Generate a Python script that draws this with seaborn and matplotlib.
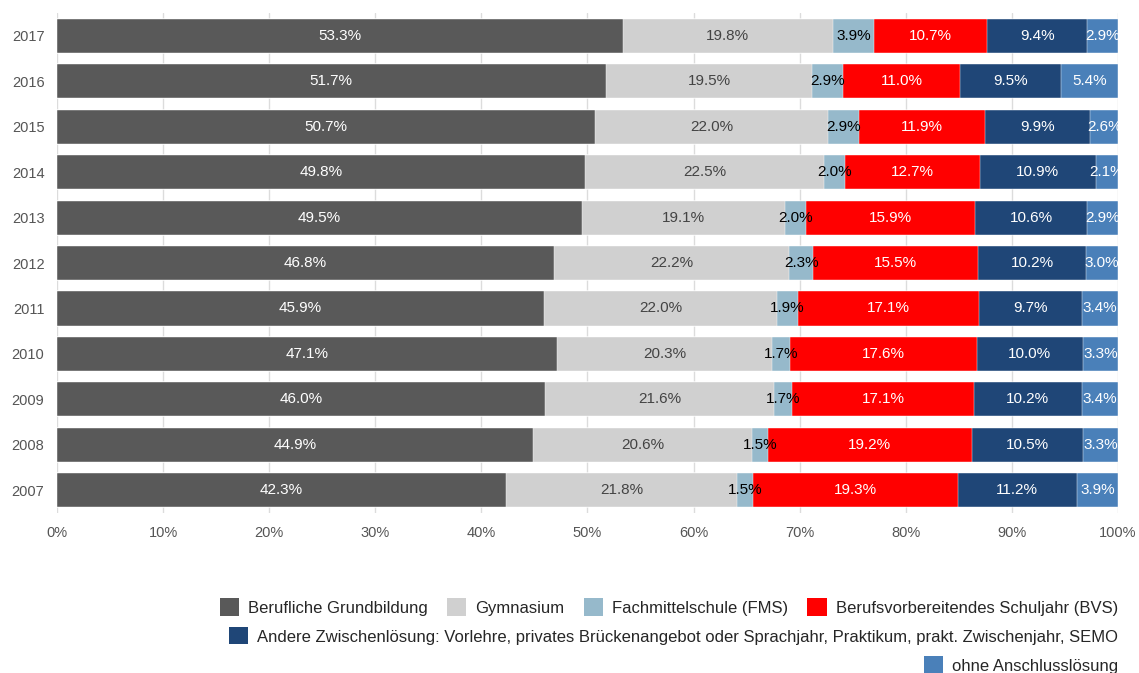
import numpy as np
import pandas as pd
import matplotlib
matplotlib.use("Agg")
import matplotlib.pyplot as plt
import seaborn as sns
from matplotlib.patches import Patch

years = ["2017", "2016", "2015", "2014", "2013", "2012", "2011", "2010", "2009", "2008", "2007"]

categories = ["Berufliche Grundbildung", "Gymnasium", "Fachmittelschule (FMS)",
              "Berufsvorbereitendes Schuljahr (BVS)",
              "Andere Zwischenlösung: Vorlehre, privates Brückenangebot oder Sprachjahr, Praktikum, prakt. Zwischenjahr, SEMO",
              "ohne Anschlusslösung"]

grundbildung = [53.3, 51.7, 50.7, 49.8, 49.5, 46.8, 45.9, 47.1, 46.0, 44.9, 42.3]
gymnasium = [19.8, 19.5, 22.0, 22.5, 19.1, 22.2, 22.0, 20.3, 21.6, 20.6, 21.8]
fms = [3.9, 2.9, 2.9, 2.0, 2.0, 2.3, 1.9, 1.7, 1.7, 1.5, 1.5]
bvs = [10.7, 11.0, 11.9, 12.7, 15.9, 15.5, 17.1, 17.6, 17.1, 19.2, 19.3]
andere = [9.4, 9.5, 9.9, 10.9, 10.6, 10.2, 9.7, 10.0, 10.2, 10.5, 11.2]
ohne = [2.9, 5.4, 2.6, 2.1, 2.9, 3.0, 3.4, 3.3, 3.4, 3.3, 3.9]

colors = ["#595959", "#d0d0d0", "#96b9cb", "#ff0000", "#1f4677", "#4a80b9"]
label_colors = ["white", "#444444", "black", "white", "white", "white"]

sns.set_style("white")
plt.rcParams["font.family"] = ["Liberation Sans", "DejaVu Sans"]

values = np.array([grundbildung, gymnasium, fms, bvs, andere, ohne]).T
cum = values.cumsum(axis=1)

fig = plt.figure(figsize=(11.39, 6.73), dpi=100)
ax = fig.add_axes([0.05004, 0.2377, 0.93152, 0.743])

# stacked by overpainting cumulative totals, last segment first
for i in reversed(range(len(categories))):
    df = pd.DataFrame({"year": years, "val": cum[:, i]})
    sns.barplot(data=df, x="val", y="year", order=years, orient="h",
                color=colors[i], saturation=1, width=0.75, ax=ax,
                edgecolor="white", linewidth=0.3, zorder=2)

for r in range(len(years)):
    for i in range(len(categories)):
        center = cum[r, i] - values[r, i] / 2
        ax.text(center, r, f"{values[r, i]:.1f}%", ha="center", va="center",
                color=label_colors[i], fontsize=11, zorder=5)

ax.set_xlim(0, 100)
ax.set_ylim(10.5, -0.5)
ax.set_xticks(np.arange(0, 101, 10))
ax.set_xticklabels([f"{t}%" for t in range(0, 101, 10)])
ax.set_xlabel("")
ax.set_ylabel("")
ax.xaxis.grid(True, color="#dcdcdc", linewidth=1, zorder=0)
ax.set_axisbelow(True)
for s in ax.spines.values():
    s.set_visible(False)
ax.tick_params(axis="both", length=0, labelsize=10.5, labelcolor="#555555")
ax.tick_params(axis="x", pad=9)
ax.tick_params(axis="y", pad=9)

def legend_row(idx, y):
    handles = [Patch(facecolor=colors[i], edgecolor="none") for i in idx]
    leg = fig.legend(handles, [categories[i] for i in idx], loc="center right",
                     bbox_to_anchor=(0.9816, y), ncol=len(idx), frameon=False,
                     fontsize=12, handlelength=1.15, handleheight=1.2,
                     handletextpad=0.55, columnspacing=1.15,
                     borderpad=0, borderaxespad=0)
    return leg

legend_row([0, 1, 2, 3], 0.098)
legend_row([4], 0.055)
legend_row([5], 0.012)

plt.savefig("out.png", dpi=100)
